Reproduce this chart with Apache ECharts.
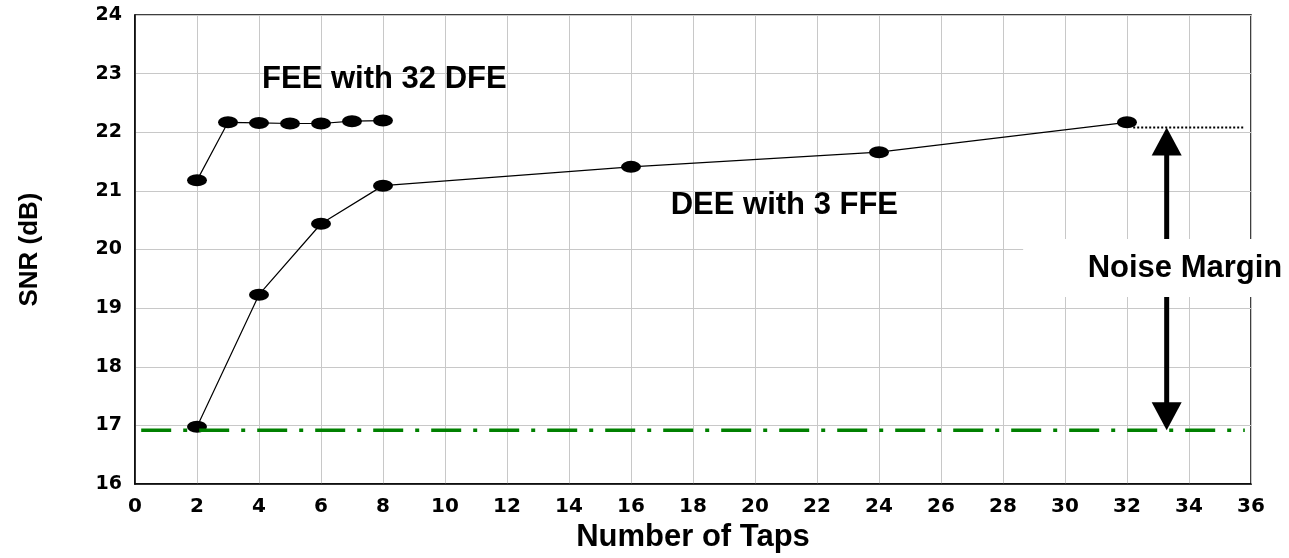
<!DOCTYPE html>
<html><head><meta charset="utf-8">
<script src="https://cdn.jsdelivr.net/npm/echarts@6/dist/echarts.min.js"></script>
<style>html,body{margin:0;padding:0;background:#fff}#c{width:1289px;height:558px}</style>
</head><body><div id="c"></div>
<script>
// ---- data ----
const feeTaps = [2, 3, 4, 5, 6, 7, 8];
const feeSnr  = [21.18, 22.17, 22.16, 22.15, 22.15, 22.19, 22.20];
const dfeTaps = [2, 4, 6, 8, 16, 24, 32];
const dfeSnr  = [16.98, 19.23, 20.44, 21.09, 21.41, 21.66, 22.17];
const xRange = [0, 36];
const xStep = 2;
const yRange = [16, 24];
const yStep = 1;
const floorX = [0.2, 35.8];
const floorY = 16.92;
const topRefX = [32.2, 35.8];
const topRefY = 22.08;
const arrowX = 33.28;
const labelFee = 'FEE with 32 DFE';
const labelDfe = 'DEE with 3 FFE';
const labelMargin = 'Noise Margin';
const xTitle = 'Number of Taps';
const yTitle = 'SNR (dB)';
// annotation anchor points (data units)
const feeLabelAt = [4.1, 22.9];
const dfeLabelAt = [17.28, 20.75];
const marginBox = { x: 28.65, yTop: 20.18, yBottom: 19.19, textX: 33.87 };

const zip = (a, b) => a.map((v, i) => [v, b[i]]);
const chart = echarts.init(document.getElementById('c'), null, { renderer: 'canvas' });
const txtFont = 'Liberation Sans, Arial, sans-serif';
const tickFont = 'DejaVu Sans, sans-serif';

chart.setOption({
  animation: false,
  backgroundColor: '#fff',
  grid: { left: 135, right: 38, top: 15, bottom: 72, show: true, borderColor: '#000', borderWidth: 1.5, backgroundColor: 'transparent' },
  xAxis: {
    type: 'value', min: xRange[0], max: xRange[1], interval: xStep,
    name: xTitle, nameLocation: 'middle', nameGap: 27,
    nameTextStyle: { fontFamily: txtFont, fontWeight: 'bold', fontSize: 31, color: '#000' },
    axisLine: { show: true, lineStyle: { color: '#000', width: 1.5 } },
    axisTick: { show: false },
    axisLabel: { fontFamily: tickFont, fontWeight: 'bold', fontSize: 20, color: '#000', margin: 13 },
    splitLine: { show: true, lineStyle: { color: '#c8c8c8', width: 1 } }
  },
  yAxis: {
    type: 'value', min: yRange[0], max: yRange[1], interval: yStep,
    name: yTitle, nameLocation: 'middle', nameGap: 92, nameRotate: 90,
    nameTextStyle: { fontFamily: txtFont, fontWeight: 'bold', fontSize: 26, color: '#000' },
    axisLine: { show: true, lineStyle: { color: '#000', width: 1.5 } },
    axisTick: { show: false },
    axisLabel: { fontFamily: tickFont, fontWeight: 'bold', fontSize: 19, color: '#000', margin: 13 },
    splitLine: { show: true, lineStyle: { color: '#c8c8c8', width: 1 } }
  },
  series: [
    {
      type: 'line', name: 'DFE', data: zip(dfeTaps, dfeSnr), z: 3,
      symbol: 'circle', symbolSize: [20, 12], showAllSymbol: true,
      itemStyle: { color: '#000' }, lineStyle: { color: '#000', width: 1.2 }
    },
    {
      type: 'line', name: 'FEE', data: zip(feeTaps, feeSnr), z: 3,
      symbol: 'circle', symbolSize: [20, 12], showAllSymbol: true,
      itemStyle: { color: '#000' }, lineStyle: { color: '#000', width: 1.2 }
    },
    {
      type: 'line', name: 'floor', data: floorX.map(x => [x, floorY]), z: 4,
      showSymbol: false, symbol: 'none',
      lineStyle: { color: '#008000', width: 3.5, type: [30, 12, 4, 12] }
    },
    {
      type: 'line', name: 'topref', data: topRefX.map(x => [x, topRefY]), z: 4,
      showSymbol: false, symbol: 'none',
      lineStyle: { color: '#000', width: 2, type: [2, 2] }
    },
    {
      type: 'custom', name: 'annot', clip: false, z: 10,
      data: [[0]],
      renderItem: function (params, api) {
        const lo = api.coord([arrowX, floorY]);
        const hi = api.coord([arrowX, topRefY]);
        const hh = 28, hw = 15;
        const bx0 = api.coord([marginBox.x, marginBox.yTop]);
        const bx1 = api.coord([marginBox.x, marginBox.yBottom]);
        const tc = api.coord([marginBox.textX, (marginBox.yTop + marginBox.yBottom) / 2]);
        const fl = api.coord(feeLabelAt);
        const dl = api.coord(dfeLabelAt);
        return {
          type: 'group',
          children: [
            { type: 'line', shape: { x1: lo[0], y1: lo[1] - hh + 2, x2: hi[0], y2: hi[1] + hh - 2 }, style: { stroke: '#000', lineWidth: 5 } },
            { type: 'polygon', shape: { points: [[hi[0], hi[1]], [hi[0] - hw, hi[1] + hh], [hi[0] + hw, hi[1] + hh]] }, style: { fill: '#000' } },
            { type: 'polygon', shape: { points: [[lo[0], lo[1]], [lo[0] - hw, lo[1] - hh], [lo[0] + hw, lo[1] - hh]] }, style: { fill: '#000' } },
            { type: 'rect', shape: { x: bx0[0], y: bx0[1], width: api.getWidth() - bx0[0], height: bx1[1] - bx0[1] }, style: { fill: '#fff' } },
            { type: 'text', x: tc[0], y: tc[1], style: { text: labelMargin, font: 'bold 31px ' + txtFont, fill: '#000', align: 'center', verticalAlign: 'middle' } },
            { type: 'text', x: fl[0], y: fl[1], style: { text: labelFee, font: 'bold 31px ' + txtFont, fill: '#000', align: 'left', verticalAlign: 'middle' } },
            { type: 'text', x: dl[0], y: dl[1], style: { text: labelDfe, font: 'bold 31px ' + txtFont, fill: '#000', align: 'left', verticalAlign: 'middle' } }
          ]
        };
      }
    }
  ]
});
</script></body></html>
